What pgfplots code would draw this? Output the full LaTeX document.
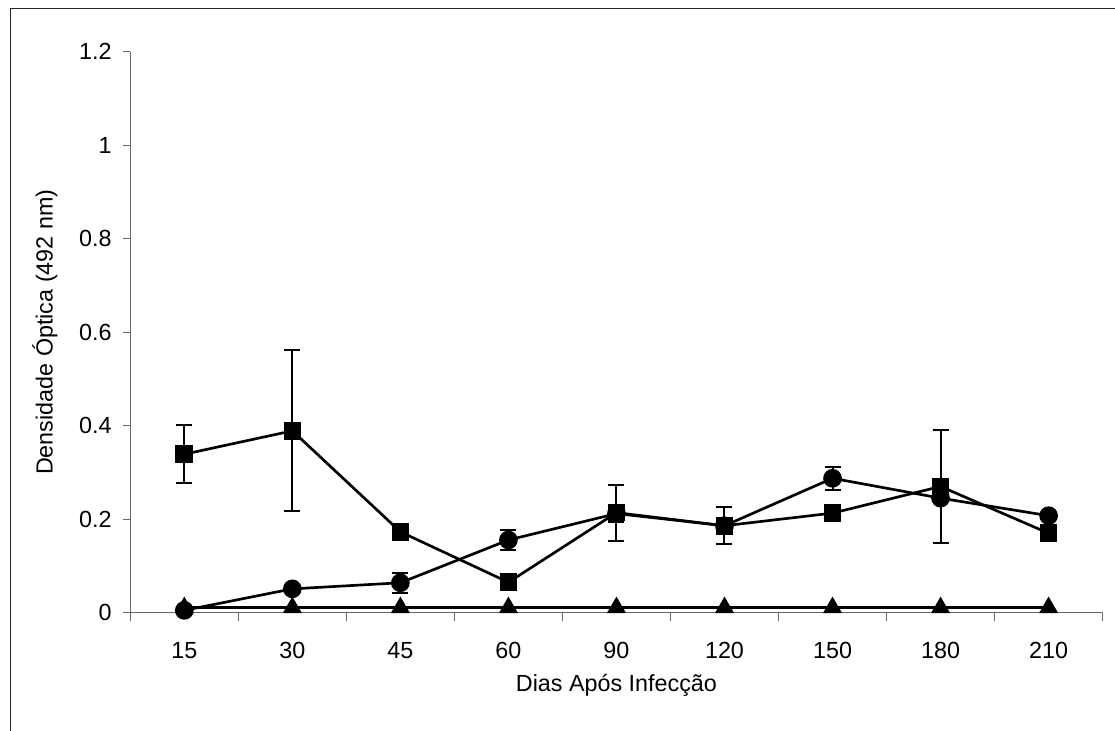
\documentclass[border=0pt]{standalone}
\usepackage{pgfplots}
\pgfplotsset{compat=1.18}
\usepackage{fontspec}
\setmainfont{Liberation Sans}
\begin{document}
\begin{tikzpicture}
\useasboundingbox (0pt,0pt) rectangle (669pt,438.6pt);
\draw[line width=1pt, black!85] (6.3pt,0pt) -- (6.3pt,433.5pt) -- (669pt,433.5pt);
\begin{axis}[
 at={(78.18pt,70.98pt)}, anchor=south west,
 scale only axis, width=583.4pt, height=336.6pt,
 xmin=-0.5, xmax=8.5, ymin=0, ymax=1.2,
 axis lines=left, axis line style={-, draw=gray!80!black, line width=0.8pt},
 every tick/.style={draw=gray!80!black, line width=0.8pt},
 tick align=outside,
 xtick={0,...,8}, xticklabels={15,30,45,60,90,120,150,180,210},
 major x tick style={draw=none},
 minor xtick={-0.5,0.5,...,8.5},
 minor tick length=4.8pt,
 ytick={0,0.2,...,1.2},
 major tick length=4.2pt,
 /pgf/number format/assume math mode=true,
 every tick label/.append style={font=\fontsize{14}{16}\selectfont},
 yticklabel style={inner sep=0pt, anchor=east, xshift=-6.8pt},
 xticklabel style={inner sep=0pt, anchor=center, yshift=-18.4pt},
 label style={font=\fontsize{14}{16}\selectfont},
 xlabel={Dias Após Infecção},
 ylabel={Densidade Óptica (492 nm)},
 xlabel style={at={(axis description cs:0.5,0)}, anchor=center, yshift=-43.4pt},
 ylabel style={at={(axis description cs:0,0.5)}, anchor=center, yshift=51.2pt},
 clip=false,
]
% error bars (square series)
\addplot[black, only marks, mark=*, mark size=0.01pt, forget plot,
 error bars/.cd, y dir=both, y explicit,
 error bar style={draw=black, solid, line width=1.2pt},
 error mark options={draw=black, rotate=90, mark size=4.8pt, line width=1.2pt}]
 coordinates {(0,0.339) +- (0,0.062) (1,0.389) +- (0,0.172) (4,0.214) +- (0,0.060) (5,0.186) +- (0,0.040) (7,0.270) +- (0,0.121)};
% error bars (circle series)
\addplot[black, only marks, mark=*, mark size=0.01pt, forget plot,
 error bars/.cd, y dir=both, y explicit,
 error bar style={draw=black, solid, line width=1.2pt},
 error mark options={draw=black, rotate=90, mark size=4.8pt, line width=1.2pt}]
 coordinates {(2,0.064) +- (0,0.021) (3,0.1555) +- (0,0.021) (4,0.212) +- (0,0.019) (6,0.2875) +- (0,0.024)};
% triangle series
\addplot[black, line width=1.6pt, mark=triangle*, mark size=5pt, mark options={solid, fill=black}]
 coordinates {(0,0.011) (1,0.011) (2,0.011) (3,0.011) (4,0.011) (5,0.011) (6,0.011) (7,0.011) (8,0.011)};
% circle series
\addplot[black, line width=1.6pt, mark=*, mark size=4.8pt, mark options={solid, fill=black}]
 coordinates {(0,0.005) (1,0.051) (2,0.064) (3,0.1555) (4,0.212) (5,0.186) (6,0.2875) (7,0.245) (8,0.2075)};
% square series
\addplot[black, line width=1.6pt, mark=square*, mark size=4.5pt, mark options={solid, fill=black}]
 coordinates {(0,0.339) (1,0.389) (2,0.173) (3,0.065) (4,0.214) (5,0.186) (6,0.213) (7,0.270) (8,0.170)};
\end{axis}
\end{tikzpicture}
\end{document}
